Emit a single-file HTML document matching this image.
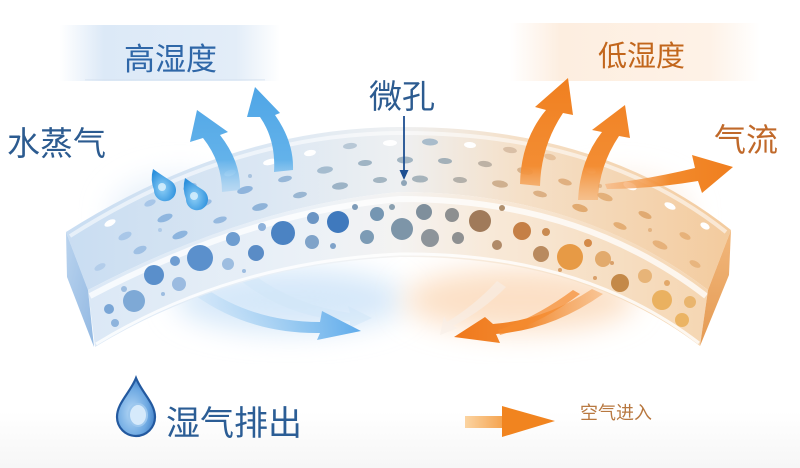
<!DOCTYPE html>
<html>
<head>
<meta charset="utf-8">
<style>
html,body{margin:0;padding:0;background:#fff;}
body{width:800px;height:468px;overflow:hidden;}
svg{display:block;}
.t{font-family:"Liberation Sans","Noto Sans CJK SC",sans-serif;}
</style>
</head>
<body>
<svg width="800" height="468" viewBox="0 0 800 468" xmlns="http://www.w3.org/2000/svg">
<defs>
  <filter id="blur" x="-50%" y="-50%" width="200%" height="200%"><feGaussianBlur stdDeviation="14"/></filter>
  <filter id="blur2" x="-50%" y="-50%" width="200%" height="200%"><feGaussianBlur stdDeviation="3"/></filter>
  <linearGradient id="bgV" x1="0" y1="0" x2="0" y2="1">
    <stop offset="0" stop-color="#ffffff"/>
    <stop offset="0.88" stop-color="#ffffff"/>
    <stop offset="1" stop-color="#f6f6f6"/>
  </linearGradient>
  <linearGradient id="banB" x1="0" y1="0" x2="1" y2="0">
    <stop offset="0" stop-color="#dce9f7" stop-opacity="0"/>
    <stop offset="0.2" stop-color="#dce9f7" stop-opacity="1"/>
    <stop offset="0.8" stop-color="#e3edf8" stop-opacity="1"/>
    <stop offset="1" stop-color="#e3edf8" stop-opacity="0"/>
  </linearGradient>
  <linearGradient id="banO" x1="0" y1="0" x2="1" y2="0">
    <stop offset="0" stop-color="#fdeee0" stop-opacity="0"/>
    <stop offset="0.2" stop-color="#fdeee0" stop-opacity="1"/>
    <stop offset="0.8" stop-color="#fef2e7" stop-opacity="1"/>
    <stop offset="1" stop-color="#fef2e7" stop-opacity="0"/>
  </linearGradient>
  <linearGradient id="gTop" gradientUnits="userSpaceOnUse" x1="66" y1="0" x2="731" y2="0">
    <stop offset="0" stop-color="#c9ddf2"/>
    <stop offset="0.3" stop-color="#dbe7f3"/>
    <stop offset="0.5" stop-color="#eef0f2"/>
    <stop offset="0.68" stop-color="#f5e0c8"/>
    <stop offset="1" stop-color="#f3cb9e"/>
  </linearGradient>
  <linearGradient id="gFront" gradientUnits="userSpaceOnUse" x1="88" y1="0" x2="708" y2="0">
    <stop offset="0" stop-color="#dbe8f6"/>
    <stop offset="0.35" stop-color="#ebf1f7"/>
    <stop offset="0.5" stop-color="#f4f3f2"/>
    <stop offset="0.65" stop-color="#f8e9d8"/>
    <stop offset="1" stop-color="#f5d6b2"/>
  </linearGradient>
  <linearGradient id="gCapL" x1="0" y1="0" x2="1" y2="1">
    <stop offset="0" stop-color="#b9d3ee"/>
    <stop offset="1" stop-color="#92b8e2"/>
  </linearGradient>
  <linearGradient id="gCapR" x1="0" y1="0" x2="0" y2="1">
    <stop offset="0" stop-color="#f1b77c"/>
    <stop offset="1" stop-color="#e59a52"/>
  </linearGradient>
  <linearGradient id="gBlueUp" gradientUnits="userSpaceOnUse" x1="0" y1="85" x2="0" y2="200">
    <stop offset="0" stop-color="#4ea5e6"/>
    <stop offset="0.65" stop-color="#63b2ea"/>
    <stop offset="1" stop-color="#a9d3f3" stop-opacity="0.35"/>
  </linearGradient>
  <linearGradient id="gOrUp" gradientUnits="userSpaceOnUse" x1="0" y1="75" x2="0" y2="205">
    <stop offset="0" stop-color="#f07f1f"/>
    <stop offset="0.7" stop-color="#f38d33"/>
    <stop offset="1" stop-color="#f6b070" stop-opacity="0.5"/>
  </linearGradient>
  <linearGradient id="gOrR" gradientUnits="userSpaceOnUse" x1="605" y1="0" x2="735" y2="0">
    <stop offset="0" stop-color="#f7b27a" stop-opacity="0.6"/>
    <stop offset="0.5" stop-color="#f28a2c"/>
    <stop offset="1" stop-color="#f07e1e"/>
  </linearGradient>
  <linearGradient id="gBlueDn" gradientUnits="userSpaceOnUse" x1="205" y1="0" x2="362" y2="0">
    <stop offset="0" stop-color="#9ccbf1" stop-opacity="0.2"/>
    <stop offset="0.6" stop-color="#7fbdee" stop-opacity="0.8"/>
    <stop offset="1" stop-color="#5daaeb"/>
  </linearGradient>
  <linearGradient id="gOrDn" gradientUnits="userSpaceOnUse" x1="600" y1="0" x2="452" y2="0">
    <stop offset="0" stop-color="#f4a257" stop-opacity="0.5"/>
    <stop offset="0.5" stop-color="#f28a30"/>
    <stop offset="1" stop-color="#f0781c"/>
  </linearGradient>
  <linearGradient id="gLegend" gradientUnits="userSpaceOnUse" x1="465" y1="0" x2="555" y2="0">
    <stop offset="0" stop-color="#fbd4a2"/>
    <stop offset="0.45" stop-color="#f4a04a"/>
    <stop offset="1" stop-color="#f1841f"/>
  </linearGradient>
  <radialGradient id="gDrop" cx="0.4" cy="0.6" r="0.7">
    <stop offset="0" stop-color="#b7d9f6"/>
    <stop offset="0.6" stop-color="#6ea9e2"/>
    <stop offset="1" stop-color="#2f6fbc"/>
  </radialGradient>
  <radialGradient id="gSmallDrop" cx="0.45" cy="0.6" r="0.6">
    <stop offset="0" stop-color="#8fd0f7"/>
    <stop offset="1" stop-color="#2b8fdc"/>
  </radialGradient>
</defs>

<rect width="800" height="468" fill="url(#bgV)"/>

<!-- top banners -->
<rect x="60" y="25" width="220" height="56" fill="url(#banB)"/>
<rect x="85" y="79" width="180" height="1.5" fill="#d3dfee" opacity="0.5"/>
<rect x="510" y="23" width="250" height="58" fill="url(#banO)"/>

<!-- glows under membrane -->
<ellipse cx="290" cy="300" rx="115" ry="32" fill="#d6e8f9" filter="url(#blur)"/>
<ellipse cx="520" cy="300" rx="115" ry="32" fill="#fce0c6" filter="url(#blur)"/>
<ellipse cx="180" cy="215" rx="70" ry="40" fill="#e8f1fa" filter="url(#blur)"/>
<ellipse cx="620" cy="215" rx="70" ry="40" fill="#fcede0" filter="url(#blur)"/>

<!-- bottom blue arrows -->
<path d="M245,268 Q290,305 350,313 L348,306 L372,318 L350,328 L350,321 Q285,318 235,276 Z" fill="#cfe6f8" opacity="0.5"/>
<path d="M205,288 Q255,322 320,322 L322,311 L361,331 L317,340 L320,333 Q250,334 196,296 Z" fill="url(#gBlueDn)"/>
<!-- bottom orange arrows -->
<path d="M497,281 Q475,305 447,322 L444,316 L440,335 L458,328 L453,326 Q484,310 506,287 Z" fill="#f7efe8" opacity="0.6"/>
<path d="M592,289 Q545,320 493,324 L485,317 L454,337 L500,343 L496,334 Q552,330 603,294 Z" fill="url(#gOrDn)"/>
<path d="M573,290 Q535,318 498,330 L500,335 Q540,324 580,294 Z" fill="#f58a2e" opacity="0.7"/>

<!-- membrane top surface -->
<path d="M66,232 Q230,128 400,127 Q600,126 731,230 L708,290 Q580,192 400,192 Q250,205 88,290 Z" fill="url(#gTop)"/>
<path d="M70,236 Q230,134 400,133 Q600,132 726,232" fill="none" stroke="#ffffff" stroke-width="4" opacity="0.55"/>
<!-- front face -->
<path d="M88,290 Q250,205 400,192 Q580,192 708,290 L700,346 Q580,255 400,257 Q230,265 95,347 Z" fill="url(#gFront)"/>
<path d="M90,296 Q250,212 400,199 Q580,199 706,296" fill="none" stroke="#ffffff" stroke-width="6" opacity="0.75"/>
<path d="M96,344 Q230,262 400,254 Q580,252 699,343" fill="none" stroke="#ffffff" stroke-width="3" opacity="0.8"/>
<!-- caps -->
<path d="M66,232 L88,290 L94,347 L67,277 Z" fill="url(#gCapL)"/>
<path d="M731,230 L708,290 L700,346 L729,275 Z" fill="url(#gCapR)"/>

<!-- top surface holes -->
<g>
<ellipse cx="110" cy="223" rx="6" ry="3" transform="rotate(-26 110 223)" fill="#ffffff"/>
<ellipse cx="150" cy="203" rx="6" ry="3" transform="rotate(-23 150 203)" fill="#a7c6e8"/>
<ellipse cx="190" cy="187" rx="7" ry="3.5" transform="rotate(-20 190 187)" fill="#9ec0e4"/>
<ellipse cx="230" cy="173" rx="6" ry="3" transform="rotate(-17 230 173)" fill="#ffffff"/>
<ellipse cx="270" cy="162" rx="7" ry="3" transform="rotate(-13 270 162)" fill="#ffffff"/>
<ellipse cx="310" cy="153" rx="6" ry="3" transform="rotate(-10 310 153)" fill="#ffffff"/>
<ellipse cx="350" cy="146" rx="7" ry="3" transform="rotate(-6 350 146)" fill="#b8c8d6"/>
<ellipse cx="390" cy="143" rx="7" ry="3" transform="rotate(-2 390 143)" fill="#ffffff"/>
<ellipse cx="430" cy="142" rx="8" ry="3.5" transform="rotate(2 430 142)" fill="#a9bccb"/>
<ellipse cx="470" cy="145" rx="6" ry="3" transform="rotate(5 470 145)" fill="#ffffff"/>
<ellipse cx="510" cy="150" rx="7" ry="3" transform="rotate(9 510 150)" fill="#d9bfa6"/>
<ellipse cx="550" cy="157" rx="6" ry="3" transform="rotate(14 550 157)" fill="#e6c19c"/>
<ellipse cx="590" cy="170" rx="6" ry="3" transform="rotate(19 590 170)" fill="#ffffff"/>
<ellipse cx="630" cy="186" rx="7" ry="3.5" transform="rotate(23 630 186)" fill="#ffffff"/>
<ellipse cx="670" cy="206" rx="6" ry="3" transform="rotate(26 670 206)" fill="#ffffff"/>
<ellipse cx="705" cy="226" rx="5" ry="3" transform="rotate(29 705 226)" fill="#ffffff"/>

<ellipse cx="125" cy="236" rx="7" ry="3.5" transform="rotate(-25 125 236)" fill="#a9c7e8"/>
<ellipse cx="165" cy="218" rx="8" ry="3.5" transform="rotate(-22 165 218)" fill="#8fb6df"/>
<ellipse cx="205" cy="203" rx="7" ry="3" transform="rotate(-19 205 203)" fill="#9bbde3"/>
<ellipse cx="245" cy="190" rx="8" ry="3.5" transform="rotate(-15 245 190)" fill="#8fb4dc"/>
<ellipse cx="285" cy="179" rx="7" ry="3" transform="rotate(-12 285 179)" fill="#97b7d8"/>
<ellipse cx="325" cy="170" rx="8" ry="3.5" transform="rotate(-8 325 170)" fill="#a5bccf"/>
<ellipse cx="365" cy="163" rx="7" ry="3" transform="rotate(-4 365 163)" fill="#9fb4c4"/>
<ellipse cx="405" cy="160" rx="8" ry="3.5" fill="#a2b5c2"/>
<ellipse cx="445" cy="161" rx="7" ry="3" transform="rotate(3 445 161)" fill="#a3b0b8"/>
<ellipse cx="485" cy="164" rx="7" ry="3" transform="rotate(7 485 164)" fill="#bdb2a5"/>
<ellipse cx="525" cy="171" rx="8" ry="3.5" transform="rotate(11 525 171)" fill="#d7b38e"/>
<ellipse cx="565" cy="182" rx="7" ry="3" transform="rotate(16 565 182)" fill="#e0b080"/>
<ellipse cx="605" cy="197" rx="8" ry="3.5" transform="rotate(20 605 197)" fill="#e3b07a"/>
<ellipse cx="645" cy="215" rx="7" ry="3" transform="rotate(24 645 215)" fill="#e0aa72"/>
<ellipse cx="685" cy="236" rx="6" ry="3" transform="rotate(27 685 236)" fill="#e7b27a"/>

<ellipse cx="100" cy="267" rx="6" ry="3" transform="rotate(-27 100 267)" fill="#b3cdea"/>
<ellipse cx="140" cy="250" rx="7" ry="3.5" transform="rotate(-24 140 250)" fill="#9fc0e4"/>
<ellipse cx="180" cy="235" rx="8" ry="3.5" transform="rotate(-21 180 235)" fill="#8cb4de"/>
<ellipse cx="220" cy="220" rx="7" ry="3" transform="rotate(-17 220 220)" fill="#96b9df"/>
<ellipse cx="260" cy="207" rx="8" ry="3.5" transform="rotate(-14 260 207)" fill="#8fb3d8"/>
<ellipse cx="300" cy="195" rx="7" ry="3" transform="rotate(-11 300 195)" fill="#99b6d2"/>
<ellipse cx="340" cy="186" rx="8" ry="3.5" transform="rotate(-7 340 186)" fill="#9cb3c6"/>
<ellipse cx="380" cy="180" rx="7" ry="3" transform="rotate(-3 380 180)" fill="#a3b5c2"/>
<ellipse cx="420" cy="179" rx="8" ry="3.5" transform="rotate(1 420 179)" fill="#a6b3bb"/>
<ellipse cx="460" cy="180" rx="7" ry="3" transform="rotate(4 460 180)" fill="#b3b0aa"/>
<ellipse cx="500" cy="184" rx="8" ry="3.5" transform="rotate(8 500 184)" fill="#cfb08f"/>
<ellipse cx="540" cy="194" rx="7" ry="3" transform="rotate(13 540 194)" fill="#dcb084"/>
<ellipse cx="580" cy="208" rx="8" ry="3.5" transform="rotate(17 580 208)" fill="#e1aa70"/>
<ellipse cx="620" cy="226" rx="7" ry="3" transform="rotate(22 620 226)" fill="#e3ad74"/>
<ellipse cx="660" cy="245" rx="8" ry="3.5" transform="rotate(25 660 245)" fill="#e6b17a"/>
<ellipse cx="695" cy="264" rx="6" ry="3" transform="rotate(28 695 264)" fill="#e8b57e"/>
<circle cx="404" cy="183" r="3" fill="#8ea5b8"/>
<circle cx="160" cy="230" r="2" fill="#b0cbe8"/>
<circle cx="250" cy="176" r="2" fill="#a9c3df"/>
<circle cx="600" cy="186" r="2" fill="#e2b88c"/>
<circle cx="650" cy="230" r="2" fill="#e4b482"/>
</g>

<!-- front face holes -->
<g>
<circle cx="109" cy="309" r="5" fill="#7aa6d6"/>
<circle cx="115" cy="323" r="4" fill="#8db3dc"/>
<circle cx="124" cy="289" r="3" fill="#9dbde0"/>
<circle cx="134" cy="301" r="11" fill="#7ea9d6"/>
<circle cx="154" cy="275" r="10" fill="#5a8fcb"/>
<circle cx="175" cy="261" r="5" fill="#6f9dd1"/>
<circle cx="179" cy="284" r="7" fill="#9bbbe0"/>
<circle cx="200" cy="258" r="13" fill="#5b90cc"/>
<circle cx="163" cy="294" r="2" fill="#9dbde0"/>
<circle cx="228" cy="264" r="6" fill="#9dbde0"/>
<circle cx="233" cy="239" r="7" fill="#6e9dd0"/>
<circle cx="256" cy="253" r="8" fill="#5a8cc6"/>
<circle cx="262" cy="227" r="4" fill="#8fb2da"/>
<circle cx="283" cy="233" r="12" fill="#4b83c3"/>
<circle cx="244" cy="271" r="2" fill="#9dbde0"/>
<circle cx="313" cy="218" r="6" fill="#6b95c4"/>
<circle cx="312" cy="242" r="7" fill="#7fa3c9"/>
<circle cx="333" cy="246" r="3" fill="#7fa3c9"/>
<circle cx="338" cy="222" r="11" fill="#3f79bd"/>
<circle cx="355" cy="207" r="3" fill="#7d9bb8"/>
<circle cx="367" cy="237" r="7" fill="#7c9bb5"/>
<circle cx="377" cy="214" r="7" fill="#7596b2"/>
<circle cx="392" cy="207" r="3" fill="#8aa0b0"/>
<circle cx="402" cy="229" r="11" fill="#7d95a8"/>
<circle cx="424" cy="212" r="8" fill="#7f8f9c"/>
<circle cx="430" cy="238" r="9" fill="#8d949a"/>
<circle cx="452" cy="215" r="7" fill="#8d8f90"/>
<circle cx="458" cy="238" r="6" fill="#8e9091"/>
<circle cx="480" cy="221" r="11" fill="#a07a5a"/>
<circle cx="497" cy="245" r="5" fill="#b08a68"/>
<circle cx="502" cy="208" r="3" fill="#b0906e"/>
<circle cx="522" cy="231" r="9" fill="#c57f45"/>
<circle cx="541" cy="254" r="8" fill="#b98a5e"/>
<circle cx="546" cy="232" r="4" fill="#c98a50"/>
<circle cx="570" cy="257" r="13" fill="#e79a45"/>
<circle cx="588" cy="243" r="4" fill="#d48a48"/>
<circle cx="603" cy="259" r="8" fill="#e2aa6c"/>
<circle cx="620" cy="283" r="9" fill="#c48948"/>
<circle cx="645" cy="276" r="7" fill="#e7b478"/>
<circle cx="662" cy="300" r="10" fill="#eab160"/>
<circle cx="690" cy="302" r="6" fill="#e9b56e"/>
<circle cx="682" cy="320" r="7" fill="#ebb464"/>
<circle cx="667" cy="283" r="3" fill="#e2a86a"/>
<circle cx="595" cy="278" r="2" fill="#d9a06a"/>
<circle cx="612" cy="263" r="2" fill="#d9a06a"/>
<circle cx="560" cy="270" r="2" fill="#d9a06a"/>
</g>

<!-- small water drops -->
<path d="M153,169 Q160,174 171,181 A11,11 0 1 1 154,190 Q150,180 153,169 Z" fill="url(#gSmallDrop)"/>
<circle cx="162" cy="187" r="4" fill="#d8f0fd" opacity="0.85"/>
<path d="M185,178 Q192,183 203,190 A11,11 0 1 1 186,199 Q182,189 185,178 Z" fill="url(#gSmallDrop)"/>
<circle cx="194" cy="196" r="4" fill="#d8f0fd" opacity="0.85"/>

<!-- blue up arrows -->
<path d="M222,192 Q222,162 203,138 L190,142 L197,110 L228,132 L220,135 Q241,162 240,190 Z" fill="url(#gBlueUp)"/>
<path d="M274,172 Q276,140 260,117 L247,117 L255,87 L280,113 L275,115 Q294,142 293,170 Z" fill="url(#gBlueUp)"/>

<!-- orange up arrows -->
<path d="M520,184 Q521,140 546,110 L535,107 L568,78 L573,115 L563,113 Q541,146 540,186 Z" fill="url(#gOrUp)"/>
<path d="M578,200 Q580,160 602,132 L592,130 L625,105 L630,138 L619,136 Q599,166 598,200 Z" fill="url(#gOrUp)"/>
<path d="M605,184 Q650,179 695,168 L692,155 L733,167 L702,193 L698,181 Q650,189 607,189 Z" fill="url(#gOrR)"/>

<!-- 微孔 pointer -->
<line x1="404" y1="116" x2="404" y2="172" stroke="#1d4f91" stroke-width="1.8"/>
<path d="M399.5,170 L408.5,170 L404,180 Z" fill="#1d4f91"/>

<!-- labels -->
<text class="t" x="124" y="70" font-size="31" fill="#2f67a8">高湿度</text>
<text class="t" x="598" y="66" font-size="29" fill="#c2661c">低湿度</text>
<text class="t" x="7" y="155" font-size="33" fill="#2c5b90">水蒸气</text>
<text class="t" x="369" y="108" font-size="33" fill="#2c5b90">微孔</text>
<text class="t" x="714" y="151" font-size="32" fill="#c0692a">气流</text>

<!-- legend -->
<path d="M136,378 C130,393 117,403 117,417 A19,19 0 0 0 155,417 C155,403 142,393 136,378 Z" fill="url(#gDrop)" stroke="#23599f" stroke-width="2.2"/>
<ellipse cx="138" cy="415" rx="9" ry="11" fill="#d6eafb" stroke="#9cc7ee" stroke-width="2"/>
<text class="t" x="166" y="435" font-size="34" fill="#2b5d95">湿气排出</text>

<rect x="465" y="416" width="40" height="12" fill="url(#gLegend)"/>
<path d="M502,406 L555,421 L502,437 Z" fill="#f1841f"/>
<text class="t" x="580" y="419" font-size="18" fill="#b87840">空气进入</text>
</svg>
</body>
</html>
